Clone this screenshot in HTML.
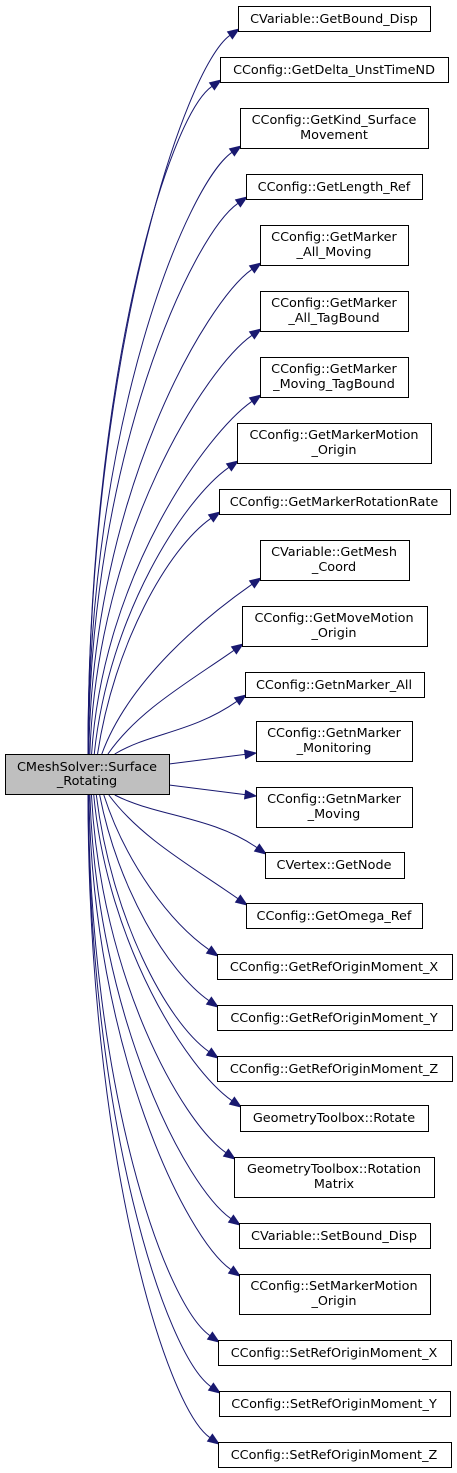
<!DOCTYPE html>
<html><head><meta charset="utf-8"><style>
html,body{margin:0;padding:0;background:#fff}
svg{display:block}
text{font-family:"DejaVu Sans","Liberation Sans",sans-serif;font-size:12.8px;fill:#000}
</style></head><body>
<svg id="s" width="457" height="1473" viewBox="0 0 457 1473" xmlns="http://www.w3.org/2000/svg">
<g id="edges" fill="none" stroke="#191970" stroke-width="1"></g>
<g id="heads" fill="#191970" stroke="#191970"></g>
<g fill="#fff" stroke="#000" stroke-width="1">
<rect x="5.5" y="754.5" width="164" height="40" fill="#bfbfbf"/>
<rect x="238.5" y="6.5" width="192" height="25"/>
<rect x="220.5" y="57.5" width="228" height="25"/>
<rect x="240.5" y="108.5" width="188" height="40"/>
<rect x="246.5" y="174.5" width="176" height="25"/>
<rect x="260.5" y="225.5" width="148" height="40"/>
<rect x="260.5" y="291.5" width="148" height="40"/>
<rect x="260.5" y="357.5" width="148" height="40"/>
<rect x="237.5" y="423.5" width="194" height="40"/>
<rect x="219.5" y="489.5" width="231" height="25"/>
<rect x="260.5" y="540.5" width="149" height="40"/>
<rect x="242.5" y="606.5" width="185" height="40"/>
<rect x="245.5" y="672.5" width="179" height="25"/>
<rect x="256.5" y="721.5" width="156" height="40"/>
<rect x="256.5" y="787.5" width="156" height="40"/>
<rect x="265.5" y="852.5" width="139" height="26"/>
<rect x="246.5" y="903.5" width="176" height="25"/>
<rect x="217.5" y="954.5" width="235" height="25"/>
<rect x="217.5" y="1005.5" width="235" height="25"/>
<rect x="217.5" y="1056.5" width="235" height="25"/>
<rect x="240.5" y="1105.5" width="188" height="26"/>
<rect x="234.5" y="1157.5" width="200" height="40"/>
<rect x="239.5" y="1223.5" width="191" height="25"/>
<rect x="239.5" y="1274.5" width="191" height="40"/>
<rect x="218.5" y="1340.5" width="233" height="25"/>
<rect x="219.5" y="1391.5" width="231" height="25"/>
<rect x="218.5" y="1442.5" width="233" height="25"/>
</g>
<g text-anchor="middle">
<text x="87" y="771">CMeshSolver::Surface</text><text x="87" y="785">_Rotating</text>
<text x="334" y="23">CVariable::GetBound_Disp</text>
<text x="334" y="74">CConfig::GetDelta_UnstTimeND</text>
<text x="334" y="124">CConfig::GetKind_Surface</text><text x="334" y="139">Movement</text>
<text x="334" y="191">CConfig::GetLength_Ref</text>
<text x="334" y="241">CConfig::GetMarker</text><text x="334" y="256">_All_Moving</text>
<text x="334" y="307">CConfig::GetMarker</text><text x="334" y="322">_All_TagBound</text>
<text x="334" y="373">CConfig::GetMarker</text><text x="334" y="388">_Moving_TagBound</text>
<text x="334" y="439">CConfig::GetMarkerMotion</text><text x="334" y="454">_Origin</text>
<text x="334" y="506">CConfig::GetMarkerRotationRate</text>
<text x="334" y="556">CVariable::GetMesh</text><text x="334" y="571">_Coord</text>
<text x="334" y="622">CConfig::GetMoveMotion</text><text x="334" y="637">_Origin</text>
<text x="334" y="689">CConfig::GetnMarker_All</text>
<text x="334" y="737">CConfig::GetnMarker</text><text x="334" y="752">_Monitoring</text>
<text x="334" y="803">CConfig::GetnMarker</text><text x="334" y="818">_Moving</text>
<text x="334" y="869">CVertex::GetNode</text>
<text x="334" y="920">CConfig::GetOmega_Ref</text>
<text x="334" y="971">CConfig::GetRefOriginMoment_X</text>
<text x="334" y="1022">CConfig::GetRefOriginMoment_Y</text>
<text x="334" y="1073">CConfig::GetRefOriginMoment_Z</text>
<text x="334" y="1122">GeometryToolbox::Rotate</text>
<text x="334" y="1173">GeometryToolbox::Rotation</text><text x="334" y="1188">Matrix</text>
<text x="334" y="1240">CVariable::SetBound_Disp</text>
<text x="334" y="1290">CConfig::SetMarkerMotion</text><text x="334" y="1305">_Origin</text>
<text x="334" y="1357">CConfig::SetRefOriginMoment_X</text>
<text x="334" y="1408">CConfig::SetRefOriginMoment_Y</text>
<text x="334" y="1459">CConfig::SetRefOriginMoment_Z</text>
</g>
</svg>
<script>
(function(){
var ns="http://www.w3.org/2000/svg";
var E=document.getElementById("edges"),H=document.getElementById("heads");
var B=[[238,6,31],[220,57,82],[240,108,148],[246,174,199],[260,225,265],[260,291,331],[260,357,397],[237,423,463],[219,489,514],[260,540,580],[242,606,646],[245,672,697],[256,721,761],[256,787,827],[265,852,878],[246,903,928],[217,954,979],[217,1005,1030],[217,1056,1081],[240,1105,1131],[234,1157,1197],[239,1223,1248],[239,1274,1314],[218,1340,1365],[219,1391,1416],[218,1442,1467]];
function add(d){var p=document.createElementNS(ns,"path");p.setAttribute("d",d);E.appendChild(p);}
function head(ex,ey,dx,dy){var l=Math.hypot(dx,dy);dx/=l;dy/=l;var L=11,W=4.2;
var bx=ex-dx*L,by=ey-dy*L;var p=document.createElementNS(ns,"polygon");
p.setAttribute("points",ex+","+ey+" "+(bx-dy*W)+","+(by+dx*W)+" "+(bx+dy*W)+","+(by-dx*W));H.appendChild(p);}
B.forEach(function(b,i){
 var mid=(b[1]+b[2])/2;
 if(i==12||i==13){
   var sy=i==12?764:785, ex=b[0], ey=i==12?753:796;
   var dx=ex-169,dy=ey-sy,l=Math.hypot(dx,dy);
   add("M169,"+sy+"L"+(ex-dx/l*11)+","+(ey-dy/l*11));head(ex,ey,dx,dy);return;}
 var up=mid<770;
 var dist=Math.abs(mid-775);
 var f=Math.max(0,1-dist/720);
 var sx=88+40*Math.pow(f,3);
 var sy=up?754:795;
 var ex=b[0]+1, ey=up?b[2]-2:b[1]+2;
 var k=Math.min(45,(ex-sx)*0.35);
 var c2x=ex-k, c2y=up?ey+k*0.7:ey-k*0.7;
 var c1x=sx+(ex-sx)*0.35*f*f, c1y=sy+(ey-sy)*(0.55-0.25*f*f);
 var dx=ex-c2x,dy=ey-c2y,l=Math.hypot(dx,dy);
 var tx=ex-dx/l*11,ty=ey-dy/l*11;
 add("M"+sx+","+sy+"C"+c1x+","+c1y+" "+(c2x-dx/l*11)+","+(c2y-dy/l*11)+" "+tx+","+ty);
 head(ex,ey,dx,dy);
});
})();
</script>
</body></html>
